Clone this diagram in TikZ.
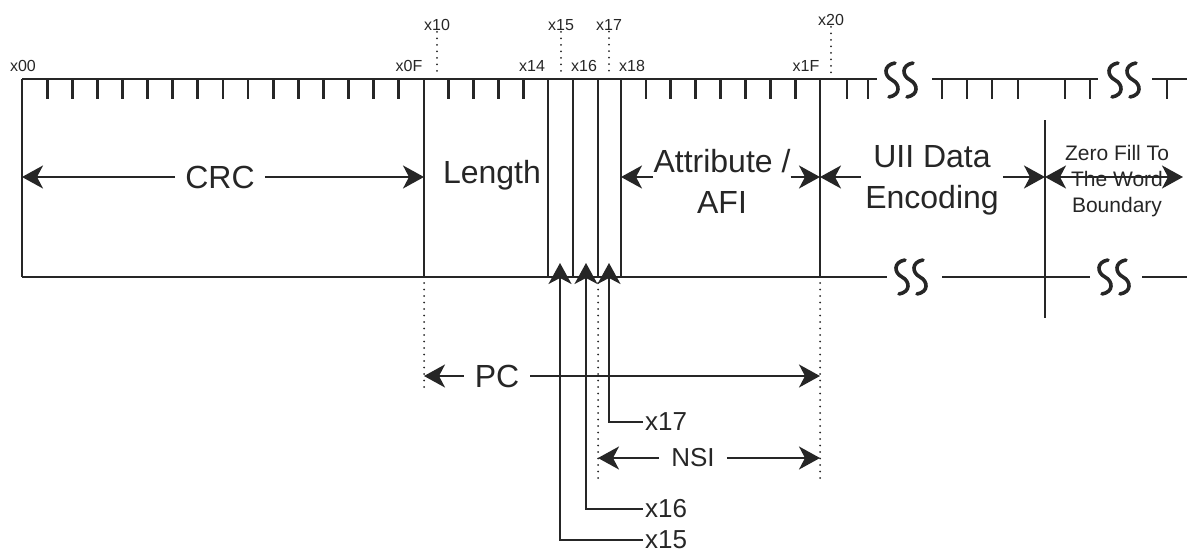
\documentclass[tikz,border=0pt]{standalone}
\usepackage{fontspec}
\setmainfont{Liberation Sans}
\usepackage{xcolor}
\usetikzlibrary{arrows.meta,positioning,calc}
\definecolor{ink}{gray}{0.15}
\begin{document}
\begin{tikzpicture}[
  x=1pt, y=-1pt,
  wall/.style={draw=ink, line width=2.2pt},
  notch/.style={draw=ink, line width=2.8pt},
  guide/.style={draw=ink, line width=2pt, dash pattern=on 0pt off 6.5pt, line cap=round},
  lab/.style={text=ink, inner sep=0pt, font=\fontsize{32}{41}\selectfont, align=center},
  tiny/.style={text=ink, inner sep=1pt, font=\fontsize{16}{18}\selectfont},
  ptr/.style={text=ink, inner sep=2pt, font=\fontsize{26}{30}\selectfont},
  arr/.style={draw=ink, line width=2.2pt, -{Stealth[length=21pt, width=23pt, inset=6pt]}},
  darr/.style={arr, {Stealth[length=21pt, width=23pt, inset=6pt]}-{Stealth[length=21pt, width=23pt, inset=6pt]}},
  wave/.pic={\draw[ink, line width=3.6pt, line cap=round]
    (3,-17) .. controls (-9,-15) and (-8,-4) .. (0,0)
    .. controls (8,4) and (9,15) .. (-3,17);}
]
\useasboundingbox (0,0) rectangle (1187,554);
% ---------------- field walls
\foreach \n/\x in {00/22, 10/424, 15/548, 16/573, 17/598, 18/621, 20/820} {
  \coordinate (t\n) at (\x,79);
  \coordinate (b\n) at (\x,277);
  \coordinate (m\n) at (\x,177);
  \draw[wall] (t\n) -- (b\n);
}
\coordinate (tz) at (1045,120);
\coordinate (bz) at (1045,318);
\coordinate (mz) at (1045,177);
\coordinate (mend) at (1183,177);
\draw[wall] (tz) -- (bz);
% ---------------- rails, broken by the waves
\coordinate (tcut1) at (877,79);  \coordinate (tgo1) at (932,79);
\coordinate (tcut2) at (1098,79); \coordinate (tgo2) at (1152,79);
\coordinate (tend) at (1187,79);
\coordinate (bcut1) at (887,277); \coordinate (bgo1) at (942,277);
\coordinate (bcut2) at (1090,277); \coordinate (bgo2) at (1142,277);
\coordinate (bend) at (1187,277);
\draw[wall] (t00) -- (tcut1);
\draw[wall] (tgo1) -- (tcut2);
\draw[wall] (tgo2) -- (tend);
\draw[wall] (b00) -- (bcut1);
\draw[wall] (bgo1) -- (bcut2);
\draw[wall] (bgo2) -- (bend);
\foreach \x in {892,910,1115,1133} \pic at (\x,80) {wave};
\foreach \x in {902,920,1105,1123} \pic at (\x,277) {wave};
% ---------------- bit notches
\foreach \k in {1,...,15} \draw[notch] ({22+25.12*\k},79) -- ++(0,20);
\foreach \k in {1,...,4} \draw[notch] ({424+24.8*\k},79) -- ++(0,20);
\foreach \k in {1,...,7} \draw[notch] ({621+24.9*\k},79) -- ++(0,20);
\foreach \x in {847,868,942,967,992,1018,1065,1090,1167} \draw[notch] (\x,79) -- ++(0,20);
% ---------------- address labels
\node[tiny] (l00) at (23,66) {x00};
\node[tiny] (l0F) at (409,66) {x0F};
\node[tiny] (l14) at (532,66) {x14};
\node[tiny] (l16) at (584,66) {x16};
\node[tiny] (l18) at (632,66) {x18};
\node[tiny] (l1F) at (806,66) {x1F};
\node[tiny] (l10) at (437,25) {x10};
\node[tiny] (l15) at (561,25) {x15};
\node[tiny] (l17) at (609,25) {x17};
\node[tiny] (l20) at (831,20) {x20};
\foreach \n in {10,15,17,20}
  \draw[guide, shorten >=4pt] (l\n.south) -- (l\n.south |- t00);
% ---------------- fields
\node[lab, inner sep=10pt] (crc) at (220,177) {CRC};
\node[lab] (len) at (492,175) {Length};
\node[lab] (attr) at (722,181) {Attribute /\\AFI};
\node[lab, inner sep=4pt] (uii) at (932,180) {UII Data\\Encoding};
\node[lab, font=\fontsize{21}{26}\selectfont] (zero) at (1117,181) {Zero Fill To\\The Word\\Boundary};
\draw[arr] (crc) -- (m00);
\draw[arr] (crc) -- (m10);
\draw[arr] (attr.west |- m18) -- (m18);
\draw[arr] (attr.east |- m20) -- (m20);
\draw[arr] (uii.west |- m20) -- (m20);
\draw[arr] (uii.east |- mz) -- (mz);
\draw[darr] (mz) -- (mend);
% ---------------- PC and NSI spans
\coordinate (p10) at (424,390);
\coordinate (p17) at (598,483);
\coordinate (p20) at (820,480);
\draw[guide, shorten <=6pt] (b10) -- (p10);
\draw[guide, shorten <=6pt] (b17) -- (p17);
\draw[guide, shorten <=6pt] (b20) -- (p20);
\node[lab, inner sep=11pt] (pc) at (497,376) {PC};
\draw[arr] (pc) -- (pc -| b10);
\draw[arr] (pc) -- (pc -| b20);
\node[ptr, inner sep=12pt] (nsi) at (693,458) {NSI};
\draw[arr] (nsi) -- (nsi -| b17);
\draw[arr] (nsi) -- (nsi -| b20);
% ---------------- bit pointers
\node[ptr, anchor=west] (n17) at (643,422) {x17};
\node[ptr, anchor=west] (n16) at (643,509) {x16};
\node[ptr, anchor=west] (n15) at (643,540) {x15};
\coordinate (a15) at (560,263);
\coordinate (a16) at (586,263);
\coordinate (a17) at (609,263);
\draw[arr] (n15.west) -| (a15);
\draw[arr] (n16.west) -| (a16);
\draw[arr] (n17.west) -| (a17);
\end{tikzpicture}
\end{document}
